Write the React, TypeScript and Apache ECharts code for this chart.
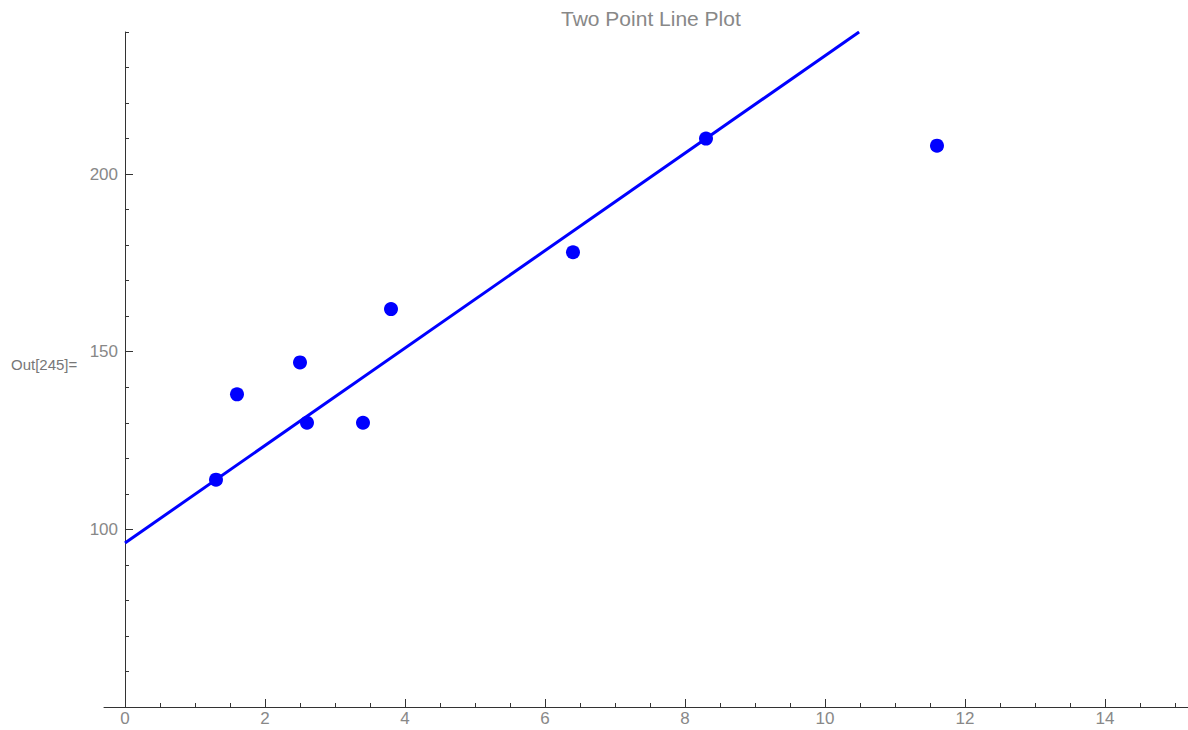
import React, { useEffect, useRef } from "react";
import * as echarts from "echarts";

// ---- data ----
const pointX = [1.3, 1.6, 2.5, 2.6, 3.4, 3.8, 6.4, 8.3, 11.6];
const pointY = [114, 138, 147, 130, 130, 162, 178, 210, 208];
// the two points the line goes through
const lineFrom = [1.3, 114];
const lineTo = [8.3, 210];

const xMajorTicks = [0, 2, 4, 6, 8, 10, 12, 14];
const xMinorTicks = [0, 0.5, 1, 1.5, 2, 2.5, 3, 3.5, 4, 4.5, 5, 5.5, 6, 6.5, 7, 7.5, 8, 8.5, 9, 9.5, 10, 10.5, 11, 11.5, 12, 12.5, 13, 13.5, 14, 14.5, 15];
const yMajorTicks = [100, 150, 200];

const titleText = "Two Point Line Plot";
const outLabel = "Out[245]=";

const X_MIN = -0.3;
const X_MAX = 15.186;
const Y_MIN = 50;
const Y_MAX = 240;

export default function App() {
  const ref = useRef<HTMLDivElement>(null);

  useEffect(() => {
    if (!ref.current) return;
    const chart = echarts.init(ref.current, undefined, { renderer: "svg" });

    const slope = (lineTo[1] - lineFrom[1]) / (lineTo[0] - lineFrom[0]);
    const intercept = lineFrom[1] - slope * lineFrom[0];
    const xEnd = (Y_MAX - intercept) / slope;
    const lineData = [
      [0, intercept],
      [xEnd, Y_MAX],
    ];

    const axisColor = "#333";
    const labelColor = "#888";
    const font = "'Liberation Sans', Arial, sans-serif";

    chart.setOption({
      animation: false,
      title: {
        text: titleText,
        left: 556,
        top: 3,
        textStyle: { color: labelColor, fontSize: 21, fontWeight: "normal", fontFamily: font },
      },
      graphic: [
        {
          type: "text",
          left: 11,
          top: 357,
          style: { text: outLabel, fill: "#777", fontSize: 15, fontFamily: font },
        },
      ],
      grid: { left: 104, right: 0, top: 32, bottom: 23, containLabel: false, outerBoundsMode: "none" },
      xAxis: [
        {
          type: "value",
          min: X_MIN,
          max: X_MAX,
          position: "bottom",
          axisLine: { show: true, onZero: false, lineStyle: { color: axisColor, width: 1 } },
          axisTick: { show: true, inside: true, length: 4, customValues: xMinorTicks, lineStyle: { color: axisColor } },
          axisLabel: { show: true, customValues: xMajorTicks, color: labelColor, fontSize: 17, margin: 3, fontFamily: font },
          splitLine: { show: false },
        },
        {
          type: "value",
          min: X_MIN,
          max: X_MAX,
          position: "bottom",
          axisLine: { show: false, onZero: false },
          axisTick: { show: true, inside: true, length: 8, customValues: xMajorTicks, lineStyle: { color: axisColor } },
          axisLabel: { show: false },
          splitLine: { show: false },
        },
      ],
      yAxis: [
        {
          type: "value",
          min: Y_MIN,
          max: Y_MAX,
          interval: 10,
          position: "left",
          axisLine: { show: true, onZero: true, lineStyle: { color: axisColor, width: 1 } },
          axisTick: { show: true, inside: true, length: 4, lineStyle: { color: axisColor } },
          axisLabel: { show: true, customValues: yMajorTicks, color: labelColor, fontSize: 17, margin: -14, fontFamily: font },
          splitLine: { show: false },
        },
        {
          type: "value",
          min: Y_MIN,
          max: Y_MAX,
          position: "left",
          axisLine: { show: false, onZero: true },
          axisTick: { show: true, inside: true, length: 8, customValues: yMajorTicks, lineStyle: { color: axisColor } },
          axisLabel: { show: false },
          splitLine: { show: false },
        },
      ],
      series: [
        {
          type: "line",
          xAxisIndex: 0,
          yAxisIndex: 0,
          data: lineData,
          showSymbol: false,
          symbol: "none",
          clip: true,
          lineStyle: { color: "#0000ff", width: 3 },
          z: 2,
        },
        {
          type: "scatter",
          xAxisIndex: 0,
          yAxisIndex: 0,
          data: pointX.map((x, i) => [x, pointY[i]]),
          symbol: "circle",
          symbolSize: 14,
          itemStyle: { color: "#0000ff", opacity: 1 },
          z: 3,
        },
      ],
    });

    return () => chart.dispose();
  }, []);

  return (
    <div
      ref={ref}
      style={{ position: "absolute", left: 0, top: 0, width: 1188, height: 730 }}
    />
  );
}
